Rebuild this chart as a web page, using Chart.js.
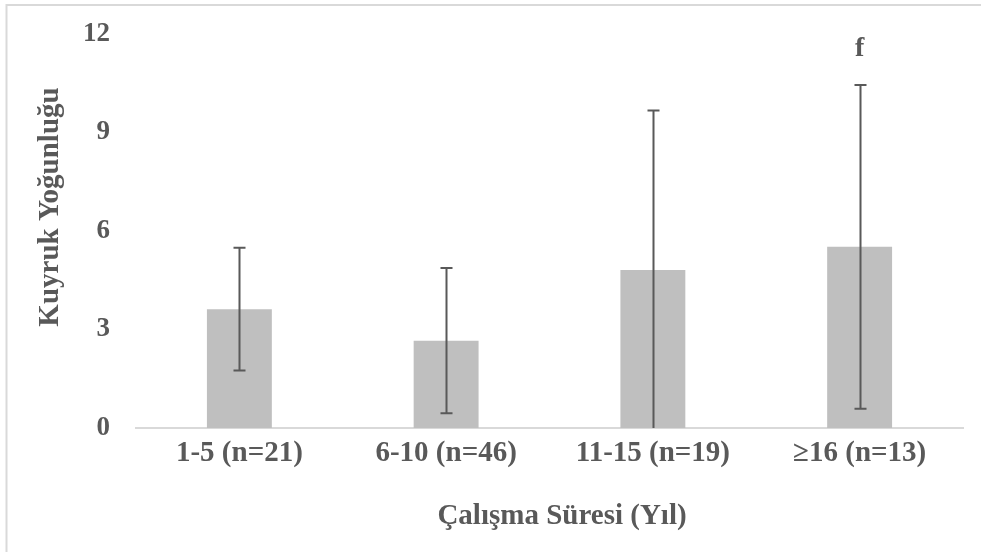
<!DOCTYPE html>
<html>
<head>
<meta charset="utf-8">
<script src="https://cdn.jsdelivr.net/npm/chart.js@4"></script>
<style>
    body { margin: 0; background: #fff; }
    #wrap { width: 981px; height: 552px; }
</style>
</head>
<body>
<div id="wrap"><canvas id="BarChart"></canvas></div>
<script>
const labels = ['1-5 (n=21)', '6-10 (n=46)', '11-15 (n=19)', '≥16 (n=13)'];
const means = [3.62, 2.66, 4.81, 5.52];
const sds = [1.87, 2.21, 4.86, 4.93];
const letters = ['', '', '', 'f'];
const letterPos = [0, 0, 0, 11.54];
const yTicks = [0, 3, 6, 9, 12];
const yTitle = 'Kuyruk Yoğunluğu';
const xTitle = 'Çalışma Süresi (Yıl)';

const textColor = '#595959';
const serif = "'Liberation Serif', 'Times New Roman', serif";

// frame, error bars, letters and axis titles
const extras = {
    id: 'extras',
    beforeDraw(chart) {
        const ctx = chart.ctx;
        ctx.save();
        ctx.fillStyle = '#fff';
        ctx.fillRect(0, 0, chart.width, chart.height);
        ctx.strokeStyle = '#d9d9d9';
        ctx.lineWidth = 2;
        ctx.beginPath();
        ctx.moveTo(6.5, chart.height);
        ctx.lineTo(6.5, 5);
        ctx.lineTo(chart.width, 5);
        ctx.stroke();
        ctx.restore();
    },
    afterDatasetsDraw(chart) {
        const ctx = chart.ctx;
        const y = chart.scales.y;
        const meta = chart.getDatasetMeta(0);
        ctx.save();
        ctx.strokeStyle = '#595959';
        ctx.lineWidth = 2;
        meta.data.forEach((bar, i) => {
            const x = Math.round(bar.x) + 0.5;
            const hiV = means[i] + sds[i];
            const loV = means[i] - sds[i];
            const hi = y.getPixelForValue(hiV);
            const lo = y.getPixelForValue(Math.max(loV, 0));
            ctx.beginPath();
            ctx.moveTo(x, hi);
            ctx.lineTo(x, lo);
            ctx.moveTo(x - 6, hi);
            ctx.lineTo(x + 6, hi);
            if (loV > 0) {
                ctx.moveTo(x - 6, lo);
                ctx.lineTo(x + 6, lo);
            }
            ctx.stroke();
            if (letters[i]) {
                ctx.fillStyle = textColor;
                ctx.font = 'bold 28px ' + serif;
                ctx.textAlign = 'center';
                ctx.textBaseline = 'middle';
                ctx.fillText(letters[i], bar.x, y.getPixelForValue(letterPos[i]));
            }
        });
        ctx.fillStyle = textColor;
        ctx.font = 'bold 29px ' + serif;
        ctx.textAlign = 'center';
        ctx.textBaseline = 'middle';
        ctx.fillText(xTitle, 562, 517);
        ctx.translate(51, 207);
        ctx.rotate(-Math.PI / 2);
        ctx.fillText(yTitle, 0, 0);
        ctx.restore();
    }
};

const ctx = document.getElementById('BarChart').getContext('2d');
const BarChart = new Chart(ctx, {
    type: 'bar',
    data: {
        labels: labels,
        datasets: [{
            data: means,
            backgroundColor: '#bfbfbf',
            borderWidth: 0,
            categoryPercentage: 1,
            barPercentage: 0.314
        }]
    },
    options: {
        responsive: true,
        maintainAspectRatio: false,
        animation: false,
        layout: {
            padding: { top: 34, right: 18, bottom: 0, left: 0 }
        },
        plugins: {
            legend: { display: false },
            tooltip: { enabled: false }
        },
        scales: {
            x: {
                grid: { display: false, drawTicks: false },
                border: { color: '#d9d9d9', width: 2 },
                ticks: {
                    color: textColor,
                    padding: 8,
                    maxRotation: 0,
                    font: { family: serif, size: 29, weight: 'bold' }
                },
                afterFit(scale) { scale.height = 124; }
            },
            y: {
                min: 0,
                max: 12,
                grid: { display: false, drawTicks: false },
                border: { display: false },
                afterBuildTicks(scale) { scale.ticks = yTicks.map(v => ({ value: v })); },
                ticks: {
                    color: textColor,
                    padding: 26,
                    font: { family: serif, size: 27, weight: 'bold' }
                },
                afterFit(scale) {
                    scale.width = 136;
                    scale.paddingTop = 0;
                    scale.paddingBottom = 0;
                }
            }
        }
    },
    plugins: [extras]
});
</script>
</body>
</html>
